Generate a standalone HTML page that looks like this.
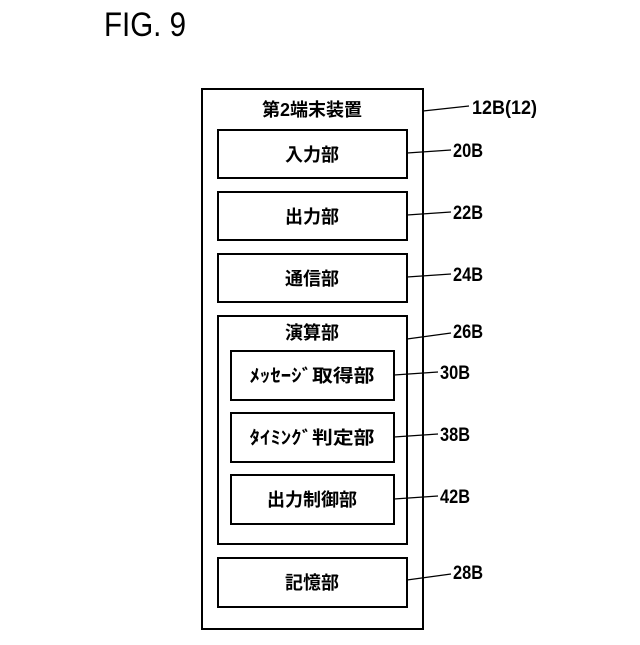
<!DOCTYPE html>
<html><head><meta charset="utf-8"><style>
html,body{margin:0;padding:0;background:#fff;}
svg text{font-family:"Liberation Sans","Noto Sans CJK JP",sans-serif;fill:#000;}
</style></head><body>
<svg width="640" height="640" viewBox="0 0 640 640" xmlns="http://www.w3.org/2000/svg">
<text x="104" y="36" font-size="34" textLength="82" lengthAdjust="spacingAndGlyphs">FIG. 9</text>
<g fill="none" stroke="#000" stroke-width="2">
<rect x="202" y="89" width="221" height="540"/>
<rect x="218" y="130" width="189" height="48"/>
<rect x="218" y="192" width="189" height="48"/>
<rect x="218" y="254" width="189" height="48"/>
<rect x="218" y="316" width="189" height="228"/>
<rect x="231" y="351" width="163" height="49"/>
<rect x="231" y="413" width="163" height="49"/>
<rect x="231" y="475" width="163" height="49"/>
<rect x="218" y="558" width="189" height="49"/>
</g>
<g stroke="#000" stroke-width="1.3">
<line x1="423" y1="111" x2="469" y2="106"/>
<line x1="407" y1="153" x2="451" y2="150"/>
<line x1="407" y1="215" x2="451" y2="212"/>
<line x1="407" y1="277" x2="451" y2="274"/>
<line x1="407" y1="339" x2="451" y2="333"/>
<line x1="394" y1="375" x2="438" y2="372"/>
<line x1="394" y1="437" x2="438" y2="434"/>
<line x1="394" y1="499" x2="438" y2="496"/>
<line x1="407" y1="580" x2="451" y2="574"/>
</g>
<g font-size="19" font-weight="bold">
<text x="472" y="114" textLength="65" lengthAdjust="spacingAndGlyphs">12B(12)</text>
<text x="453" y="157" textLength="30" lengthAdjust="spacingAndGlyphs">20B</text>
<text x="453" y="219" textLength="30" lengthAdjust="spacingAndGlyphs">22B</text>
<text x="453" y="281" textLength="30" lengthAdjust="spacingAndGlyphs">24B</text>
<text x="453" y="338" textLength="30" lengthAdjust="spacingAndGlyphs">26B</text>
<text x="440" y="379" textLength="30" lengthAdjust="spacingAndGlyphs">30B</text>
<text x="440" y="441" textLength="30" lengthAdjust="spacingAndGlyphs">38B</text>
<text x="440" y="503" textLength="30" lengthAdjust="spacingAndGlyphs">42B</text>
<text x="453" y="579" textLength="30" lengthAdjust="spacingAndGlyphs">28B</text>
</g>
<g font-size="18" font-weight="bold" text-anchor="middle">
<text x="312" y="116">第2端末装置</text>
<text x="312" y="161">入力部</text>
<text x="312" y="223">出力部</text>
<text x="312" y="285">通信部</text>
<text x="312" y="339">演算部</text>
<text x="312" y="382" textLength="125" lengthAdjust="spacingAndGlyphs">ﾒｯｾｰｼﾞ取得部</text>
<text x="312" y="444" textLength="125" lengthAdjust="spacingAndGlyphs">ﾀｲﾐﾝｸﾞ判定部</text>
<text x="312" y="506">出力制御部</text>
<text x="312" y="589">記憶部</text>
</g>
</svg>
</body></html>
